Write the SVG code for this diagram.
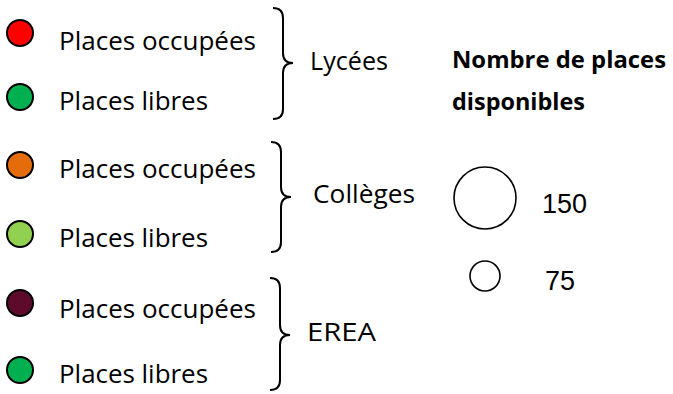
<svg xmlns="http://www.w3.org/2000/svg" width="673" height="394" viewBox="0 0 673 394">
<style>
.dot{stroke:#000;stroke-width:2}
.lbl{font-family:"Open Sans","Noto Sans",sans-serif;font-size:25px;fill:#000}
.b{font-weight:bold;font-size:23px}
.num{font-family:"Liberation Sans",Arial,sans-serif;font-size:27px;fill:#000}
.brace{fill:none;stroke:#000;stroke-width:2}
.ring{fill:#fff;stroke:#000;stroke-width:1.6}
</style>
<rect width="673" height="394" fill="#fff"/>
<g id="lycees">
<circle class="dot" cx="20" cy="33" r="13" fill="#FF0000"/>
<text class="lbl" x="59" y="50" textLength="197" lengthAdjust="spacingAndGlyphs">Places occupées</text>
<circle class="dot" cx="20" cy="97" r="13" fill="#00B050"/>
<text class="lbl" x="59" y="110" textLength="149" lengthAdjust="spacingAndGlyphs">Places libres</text>
<path class="brace" d="M273,8 Q283,8 283,18 L283,53 Q283,63 293,63 Q283,63 283,73 L283,109 Q283,119 273,119"/>
<text class="lbl" x="310" y="70" textLength="78" lengthAdjust="spacingAndGlyphs">Lycées</text>
</g>
<g id="colleges">
<circle class="dot" cx="20" cy="165" r="13" fill="#E46C0A"/>
<text class="lbl" x="59" y="178" textLength="197" lengthAdjust="spacingAndGlyphs">Places occupées</text>
<circle class="dot" cx="20" cy="234" r="13" fill="#92D050"/>
<text class="lbl" x="59" y="247" textLength="149" lengthAdjust="spacingAndGlyphs">Places libres</text>
<path class="brace" d="M271,142 Q281,142 281,152 L281,187 Q281,197 291,197 Q281,197 281,207 L281,242 Q281,252 271,252"/>
<text class="lbl" x="313" y="203" textLength="102" lengthAdjust="spacingAndGlyphs">Collèges</text>
</g>
<g id="erea">
<circle class="dot" cx="20" cy="303" r="13" fill="#5E0B2B"/>
<text class="lbl" x="59" y="318" textLength="197" lengthAdjust="spacingAndGlyphs">Places occupées</text>
<circle class="dot" cx="20" cy="370" r="13" fill="#00B050"/>
<text class="lbl" x="59" y="383" textLength="149" lengthAdjust="spacingAndGlyphs">Places libres</text>
<path class="brace" d="M270,278 Q280,278 280,288 L280,325 Q280,335 290,335 Q280,335 280,345 L280,380 Q280,390 270,390"/>
<text class="lbl" x="307" y="341" textLength="69" lengthAdjust="spacingAndGlyphs">EREA</text>
</g>
<g id="taille">
<text class="lbl b" x="452" y="68" textLength="214" lengthAdjust="spacingAndGlyphs">Nombre de places</text>
<text class="lbl b" x="452" y="110" textLength="133" lengthAdjust="spacingAndGlyphs">disponibles</text>
<circle class="ring" cx="485" cy="198" r="31"/>
<text class="num" x="542" y="213">150</text>
<circle class="ring" cx="485" cy="276" r="15"/>
<text class="num" x="545" y="290">75</text>
</g>
</svg>
